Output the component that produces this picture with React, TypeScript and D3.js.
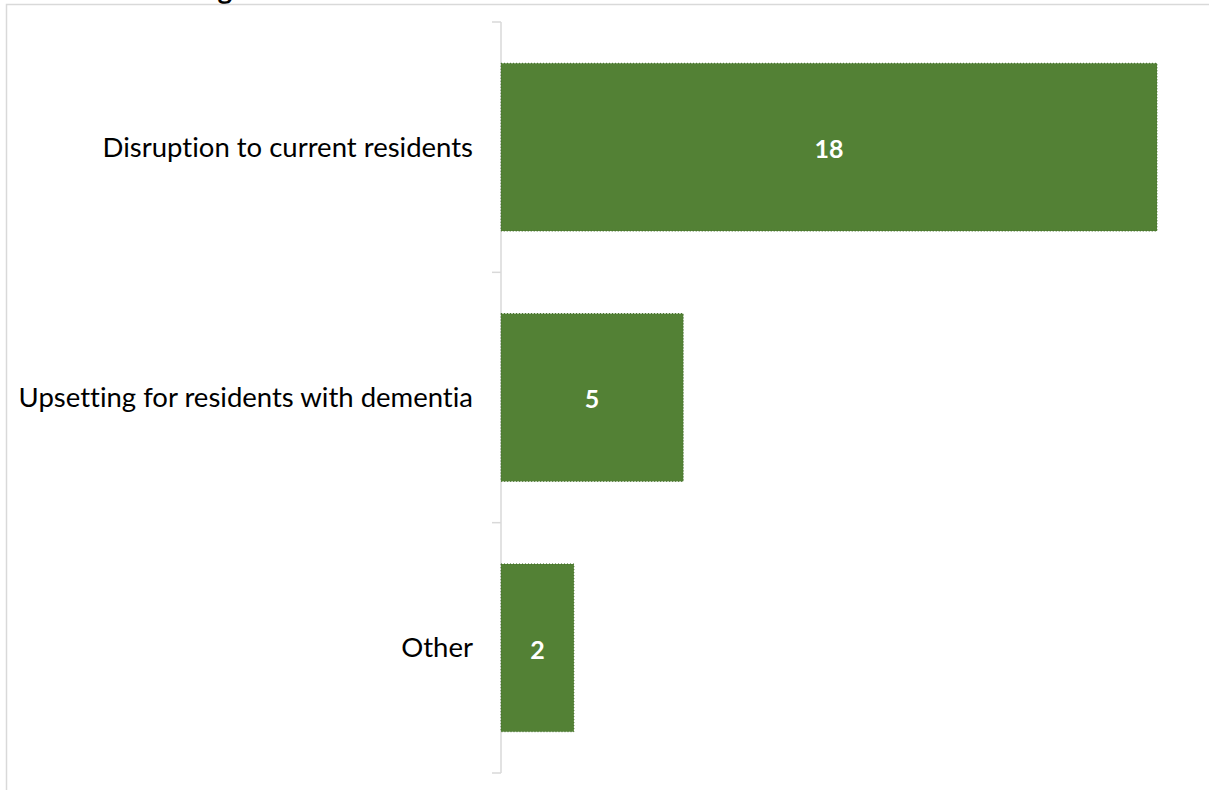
import React from "react";
import * as d3 from "d3";

const categories = ["Disruption to current residents", "Upsetting for residents with dementia", "Other"];
const values = [18, 5, 2];
const titleText = "g";

const W = 1209;
const H = 790;

export default function App() {
  const y = d3.scaleBand<string>().domain(categories).range([22, 773]).paddingInner(0.33).paddingOuter(0.165);
  const yRow = d3.scaleBand<string>().domain(categories).range([22, 773]).padding(0);
  const x = d3.scaleLinear().domain([0, 18]).range([501, 1157]);
  const tickYs = [...categories.map((c) => yRow(c) as number), 773];
  const font = "Lato, 'Open Sans', sans-serif";
  return (
    <svg width={W} height={H} style={{ position: "absolute", left: 0, top: 0, background: "#fff", fontVariantLigatures: "none" }}>
      <text x={225} y={-1} fontFamily={font} fontWeight={700} fontSize={28} textAnchor="middle" fill="#000">{titleText}</text>
      <rect x={6.5} y={4.5} width={W + 10} height={H + 10} fill="none" stroke="#d9d9d9" strokeWidth={1.5} />
      <line x1={501} x2={501} y1={22} y2={773} stroke="#d9d9d9" strokeWidth={1.5} />
      {tickYs.map((t, i) => (
        <line key={i} x1={492} x2={501} y1={t} y2={t} stroke="#d9d9d9" strokeWidth={1.5} />
      ))}
      {categories.map((c, i) => {
        const by = y(c) as number;
        const bh = y.bandwidth();
        const x0 = x(0);
        const x1 = x(values[i]);
        return (
          <g key={c}>
            <rect x={x0} y={by} width={x1 - x0} height={bh} fill="#538135" stroke="#3d6a24" strokeWidth={1} strokeDasharray="1 2" />
            <text x={(x0 + x1) / 2} y={by + bh / 2 + 2} dy="0.35em" textAnchor="middle" fill="#fff" fontFamily={font} fontWeight={700} fontSize={25}>{values[i]}</text>
            <text x={473} y={by + bh / 2} dy="0.35em" textAnchor="end" fill="#000" fontFamily={font} fontSize={27.5}>{c}</text>
          </g>
        );
      })}
    </svg>
  );
}
